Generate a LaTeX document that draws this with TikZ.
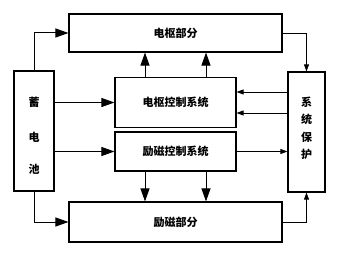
\documentclass[tikz,border=0pt]{standalone}
\usepackage{fontspec}
\setmainfont{Noto Sans CJK SC}
\usetikzlibrary{arrows.meta}
\begin{document}
\begin{tikzpicture}[x=1pt,y=-1pt,
  blk/.style={draw,line width=1.1pt,inner sep=0pt,font=\fontsize{11}{13}\selectfont\bfseries},
  lbl/.style={font=\fontsize{11}{13}\selectfont\bfseries},
  bigarr/.style={line width=1pt,-{Triangle[length=13pt,width=9pt]}},
  thinarr/.style={line width=0.7pt,-{Triangle[length=7pt,width=5pt]}}]
\useasboundingbox (0,0) rectangle (345,254);
\node[blk,minimum width=213pt,minimum height=38pt] (arm) at (175.5,33) {电枢部分};
\node[blk,minimum width=213pt,minimum height=40pt] (fld) at (175.5,222) {励磁部分};
\node[blk,minimum width=121pt,minimum height=50pt] (ac) at (175.5,102.5) {电枢控制系统};
\node[blk,minimum width=121pt,minimum height=39pt] (fc) at (175.5,151.5) {励磁控制系统};
\node[blk,minimum width=40pt,minimum height=120pt] (bat) at (34,131) {};
\node[blk,minimum width=37pt,minimum height=120pt] (pro) at (306.5,132) {};
\node[lbl] (b1) at (34,102) {蓄};
\node[lbl] (b2) at (34,137) {电};
\node[lbl] (b3) at (34,169) {池};
\node[lbl] (p1) at (306.5,102) {系};
\node[lbl] (p2) at (306.5,119.5) {统};
\node[lbl] (p3) at (306.5,137) {保};
\node[lbl] (p4) at (306.5,154) {护};
% battery to boxes
\draw[bigarr] (bat.north) |- (arm.west);
\draw[bigarr] (bat.south) |- (fld.west);
\draw[bigarr] (bat.east |- ac) -- (ac.west);
\draw[bigarr] (bat.east |- fc) -- (fc.west);
% control to parts
\draw[bigarr] (ac.north -| 145,0) -- (arm.south -| 145,0);
\draw[bigarr] (ac.north -| 206,0) -- (arm.south -| 206,0);
\draw[bigarr] (fc.south -| 145,0) -- (fld.north -| 145,0);
\draw[bigarr] (fc.south -| 206,0) -- (fld.north -| 206,0);
% protection
\draw[thinarr] (arm.east) -| (pro.north);
\draw[thinarr] (fld.east) -| (pro.south);
\draw[thinarr] (pro.west |- 0,92) -- (ac.east |- 0,92);
\draw[thinarr] (pro.west |- 0,113) -- (ac.east |- 0,113);
\draw[thinarr] (fc.east) -- (pro.west |- fc);
\end{tikzpicture}
\end{document}
